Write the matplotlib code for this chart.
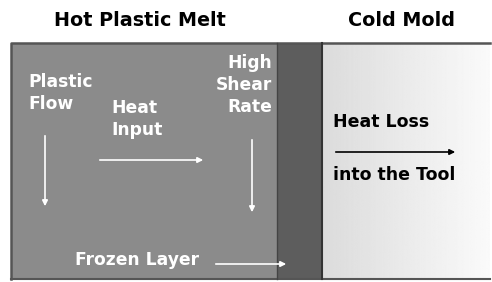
import numpy as np
import matplotlib
matplotlib.use('Agg')
from matplotlib import pyplot as plt

# headings and labels
titles = ['Hot Plastic Melt', 'Cold Mold']
melt_labels = ['Plastic\nFlow', 'Heat\nInput', 'High\nShear\nRate', 'Frozen Layer']
mold_labels = ['Heat Loss', 'into the Tool']

plt.rcParams['font.family'] = ['DejaVu Sans']

fig = plt.figure(figsize=(4.92, 2.82), dpi=100)
ax = fig.add_axes([0, 0, 1, 1])
ax.axis('off')

# melt region, frozen layer, mold
ax.add_patch(plt.Rectangle((11, 43), 266, 236, fc='#8b8b8b', ec='none'))
ax.add_patch(plt.Rectangle((277, 43), 45, 236, fc='#5d5d5d', ec='none'))
grad = np.linspace(0.86, 0.98, 200).reshape(1, -1)
ax.imshow(grad, cmap='gray', vmin=0, vmax=1, extent=(322, 490, 279, 43),
          aspect='auto', zorder=1)
ax.set_xlim(0, 492)
ax.set_ylim(282, 0)
ax.plot([11, 11, 490], [279, 43, 43], color='#555555', lw=1.8, zorder=3)
ax.plot([11, 490], [279, 279], color='#555555', lw=1.5, zorder=3)
ax.plot([277, 277], [43, 279], color='#444444', lw=1, zorder=3)
ax.plot([322, 322], [43, 279], color='#333333', lw=1.5, zorder=3)

ax.text(140, 20, titles[0], ha='center', va='center', fontsize=13.8, fontweight='bold')
ax.text(402, 20, titles[1], ha='center', va='center', fontsize=13.8, fontweight='bold')

wt = dict(color='white', fontsize=12.3, fontweight='bold', linespacing=1.25, zorder=4)
ax.text(28, 93, melt_labels[0], ha='left', va='center', **wt)
ax.text(111, 119, melt_labels[1], ha='left', va='center', **wt)
ax.text(272, 85, melt_labels[2], ha='right', va='center', multialignment='right', **wt)
ax.text(75, 260, melt_labels[3], ha='left', va='center', **wt)

bt = dict(color='black', fontsize=12.5, fontweight='bold', zorder=4)
ax.text(333, 122, mold_labels[0], ha='left', va='center', **bt)
ax.text(333, 175, mold_labels[1], ha='left', va='center', **bt)

wa = dict(arrowstyle='-|>', color='white', lw=1.2, mutation_scale=8)
ax.annotate('', xy=(45, 209), xytext=(45, 133), arrowprops=wa, zorder=4)
ax.annotate('', xy=(206, 160), xytext=(97, 160), arrowprops=wa, zorder=4)
ax.annotate('', xy=(252, 215), xytext=(252, 137), arrowprops=wa, zorder=4)
ax.annotate('', xy=(289, 264), xytext=(213, 264), arrowprops=wa, zorder=4)
ax.annotate('', xy=(458, 152), xytext=(333, 152),
            arrowprops=dict(arrowstyle='-|>', color='black', lw=1.2, mutation_scale=8), zorder=4)

fig.savefig('out.png', dpi=100)
